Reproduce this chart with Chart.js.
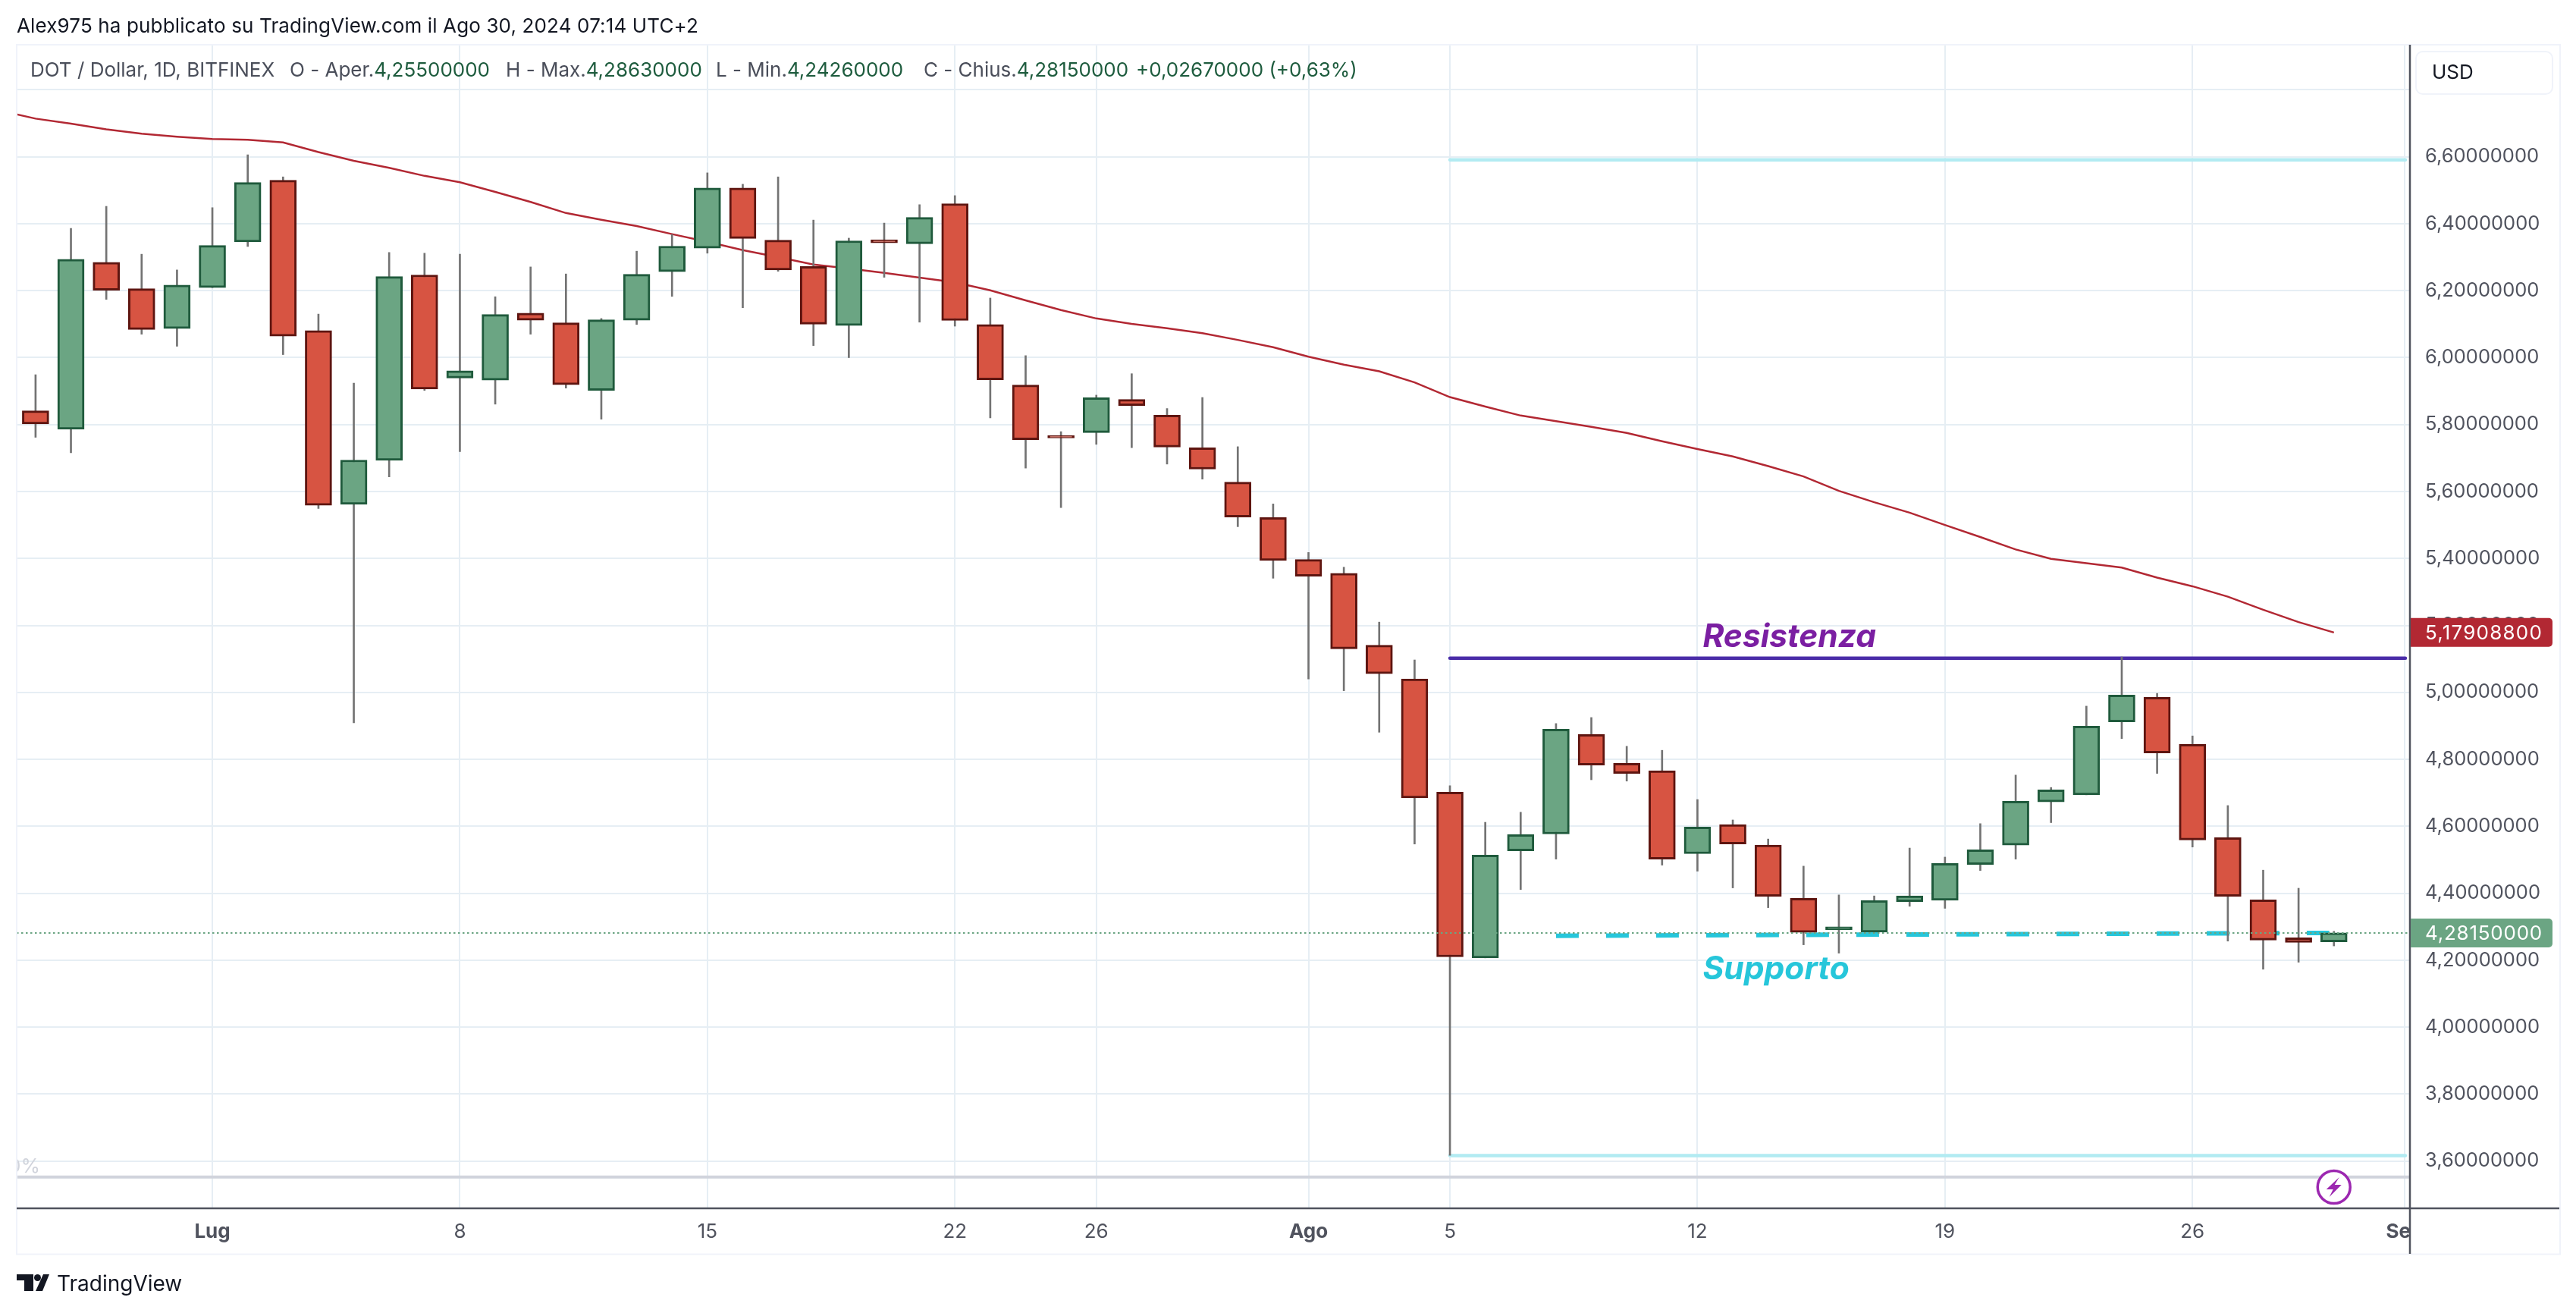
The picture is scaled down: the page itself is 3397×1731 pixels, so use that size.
<!DOCTYPE html>
<html lang="it">
<head>
<meta charset="utf-8">
<title>DOT / Dollar</title>
<script src="https://cdn.jsdelivr.net/npm/chart.js@4"></script>
<style>html,body{margin:0;padding:0;background:#fff}canvas{display:block}</style>
</head>
<body>
<canvas id="c" width="3397" height="1731"></canvas>
<script>
// Daily candles, 26 Jun 2024 (day 0) to 30 Aug 2024 (day 65)
const opens  = [5.841,5.786,6.285,6.206,6.087,6.209,6.346,6.530,6.081,5.562,5.693,6.247,5.939,5.933,6.133,6.104,5.902,6.112,6.257,6.327,6.507,6.351,6.272,6.096,6.352,6.340,6.460,6.099,5.918,5.763,5.776,5.875,5.828,5.731,5.628,5.522,5.397,5.356,5.141,5.040,4.702,4.207,4.527,4.577,4.874,4.788,4.766,4.518,4.605,4.544,4.385,4.291,4.284,4.375,4.379,4.486,4.544,4.673,4.694,4.912,4.985,4.845,4.566,4.380,4.267,4.255];
const closes = [5.802,6.294,6.201,6.084,6.217,6.335,6.523,6.064,5.559,5.694,6.242,5.906,5.961,6.129,6.112,5.919,6.113,6.249,6.333,6.507,6.356,6.262,6.100,6.349,6.343,6.419,6.111,5.934,5.755,5.760,5.880,5.857,5.733,5.667,5.524,5.394,5.347,5.130,5.056,4.685,4.210,4.514,4.575,4.890,4.783,4.758,4.502,4.598,4.547,4.391,4.283,4.300,4.378,4.392,4.489,4.530,4.675,4.709,4.899,4.992,4.819,4.559,4.391,4.260,4.253,4.2815];
const highs  = [5.949,6.386,6.452,6.309,6.262,6.448,6.606,6.540,6.130,5.924,6.314,6.312,6.309,6.182,6.271,6.250,6.117,6.318,6.368,6.552,6.518,6.540,6.411,6.357,6.402,6.457,6.484,6.178,6.006,5.779,5.888,5.952,5.848,5.881,5.734,5.563,5.418,5.374,5.210,5.097,4.721,4.612,4.642,4.907,4.925,4.839,4.827,4.680,4.619,4.562,4.481,4.395,4.392,4.535,4.508,4.608,4.753,4.716,4.959,5.106,4.997,4.870,4.662,4.469,4.415,4.2863];
const lows   = [5.762,5.716,6.174,6.070,6.034,6.209,6.332,6.009,5.549,4.909,5.644,5.902,5.719,5.861,6.070,5.909,5.816,6.099,6.183,6.312,6.149,6.258,6.036,6.000,6.240,6.106,6.094,5.820,5.670,5.552,5.741,5.731,5.682,5.637,5.495,5.341,5.040,5.005,4.881,4.547,3.617,4.207,4.411,4.502,4.739,4.735,4.484,4.466,4.416,4.357,4.246,4.221,4.284,4.361,4.355,4.468,4.502,4.611,4.694,4.862,4.758,4.538,4.257,4.173,4.194,4.2426];
// Moving average, day -1 to day 65
const maValues = [6.738,6.714,6.699,6.682,6.669,6.660,6.653,6.651,6.643,6.614,6.588,6.567,6.543,6.524,6.495,6.465,6.432,6.412,6.393,6.369,6.346,6.321,6.300,6.278,6.266,6.253,6.239,6.225,6.201,6.171,6.142,6.117,6.101,6.088,6.073,6.053,6.031,6.003,5.979,5.959,5.926,5.882,5.854,5.827,5.810,5.793,5.775,5.750,5.727,5.705,5.676,5.645,5.602,5.568,5.537,5.500,5.464,5.427,5.399,5.386,5.373,5.343,5.317,5.286,5.247,5.210,5.179];
const yTicks = [6.8,6.6,6.4,6.2,6.0,5.8,5.6,5.4,5.2,5.0,4.8,4.6,4.4,4.2,4.0,3.8,3.6];
const xTickDays = [5,12,19,26,30,36,40,47,54,61,67];
const xTickLabels = ['Lug','8','15','22','26','Ago','5','12','19','26','Sep'];
const xBoldLabels = ['Lug','Ago','Sep'];
const resistanceLevel = [5.102,5.102];
const upperLevel = [6.591,6.591];
const lowerLevel = [3.616,3.616];
const levelDays = [40,67.02];
const supportLevel = [4.273,4.2814];
const supportDays = [43,64.87];
const baselineLevel = 3.552;
const lastClose = 4.2815;
const lastMA = 5.179088;
const xRange = [-0.534,67.15];
const yRange = [3.4588,6.9324];

const FONT = 'Inter, "Liberation Sans", sans-serif';
const fmt = v => v.toFixed(8).replace('.', ',');
const GRID = '#E6EEF4';
const AXIS = '#50535E';
const UP = '#6BA583', UPB = '#1F5A3C', DOWN = '#D75442', DOWNB = '#5E1510';

const days = opens.map((_, i) => i);
const segLine = (xs, ys, extra) => Object.assign({
  type: 'line', data: xs.map((x, i) => ({x, y: ys[i]})), pointRadius: 0, tension: 0, fill: false
}, extra);

const overlay = {
  id: 'overlay',
  beforeDraw(chart) {
    const c = chart.ctx;
    c.save();
    c.fillStyle = '#fff';
    c.fillRect(0, 0, chart.width, chart.height);
    c.restore();
  },
  afterDatasetsDraw(chart) {
    const c = chart.ctx, xs = chart.scales.x, ys = chart.scales.y;
    c.save();
    c.textBaseline = 'alphabetic';
    c.textAlign = 'left';
    c.font = 'italic 700 42.5px ' + FONT;
    c.fillStyle = '#7B1FA2';
    c.fillText('Resistenza', xs.getPixelForValue(47.15), ys.getPixelForValue(5.135));
    c.fillStyle = '#26C6DA';
    c.fillText('Supporto', xs.getPixelForValue(47.15), ys.getPixelForValue(4.143));
    c.restore();
  },
  afterDraw(chart) {
    const c = chart.ctx, a = chart.chartArea, ys = chart.scales.y;
    c.save();
    // mask the clipped tail of the last time label
    c.fillStyle = '#fff';
    c.fillRect(a.right + 1, a.bottom + 2, 196, 58);
    // faint scale label, clipped on the left
    c.save();
    c.beginPath(); c.rect(a.left, a.top, 200, a.bottom - a.top); c.clip();
    c.font = '26px ' + FONT; c.fillStyle = '#D1D4DC'; c.textAlign = 'right'; c.textBaseline = 'middle';
    c.fillText('0%', 53, 1538);
    c.restore();
    // panel frame
    c.strokeStyle = '#F0F3FA'; c.lineWidth = 2;
    c.strokeRect(22, 59, 3354, 1594.5);
    // axes
    c.strokeStyle = AXIS; c.lineWidth = 2.5;
    c.beginPath(); c.moveTo(22, a.bottom); c.lineTo(3375, a.bottom); c.stroke();
    c.beginPath(); c.moveTo(a.right, 59); c.lineTo(a.right, 1653); c.stroke();
    // USD box
    c.strokeStyle = '#F0F3FA'; c.lineWidth = 2;
    c.beginPath(); c.roundRect(3186, 68, 180, 56, 9); c.stroke();
    c.font = '26px ' + FONT; c.fillStyle = '#131722'; c.textBaseline = 'middle'; c.textAlign = 'left';
    c.fillText('USD', 3207, 96);
    // last value tags, digits spread to the fixed width of the price column
    const tag = (v, bg) => {
      const y = ys.getPixelForValue(v);
      c.fillStyle = bg;
      c.beginPath(); c.roundRect(3179, y - 19, 187, 38, [0, 5, 5, 0]); c.fill();
      c.fillStyle = '#fff'; c.font = '26px ' + FONT; c.textBaseline = 'middle';
      const s = fmt(v);
      c.letterSpacing = ((155 - c.measureText(s).width) / 10) + 'px';
      c.fillText(s, 3198, y + 1);
      c.letterSpacing = '0px';
    };
    tag(lastMA, '#B22833');
    tag(lastClose, UP);
    // bolt marker
    const bx = chart.scales.x.getPixelForValue(65), by = 1565;
    c.fillStyle = '#fff'; c.strokeStyle = '#9C27B0'; c.lineWidth = 3.5;
    c.beginPath(); c.arc(bx, by, 21.5, 0, Math.PI * 2); c.fill(); c.stroke();
    c.fillStyle = '#9C27B0';
    c.beginPath();
    [[7,-13],[-10,3],[-1,3],[-6,13],[10,-3],[1,-3]].forEach((p, i) => i ? c.lineTo(bx + p[0], by + p[1]) : c.moveTo(bx + p[0], by + p[1]));
    c.closePath(); c.fill();
    // header
    c.textBaseline = 'middle'; c.textAlign = 'left';
    c.font = '26px ' + FONT; c.fillStyle = '#131722';
    c.letterSpacing = '0.14px';
    c.fillText('Alex975 ha pubblicato su TradingView.com il Ago 30, 2024 07:14 UTC+2', 22, 35);
    c.letterSpacing = '0px';
    const LAB = '#4A4E5A', VAL = '#1E5C3E';
    const legend = [
      [40, 'DOT / Dollar, 1D, BITFINEX', null],
      [382, 'O - Aper.', '4,25500000'],
      [667, 'H - Max.', '4,28630000'],
      [944, 'L - Min.', '4,24260000'],
      [1218, 'C - Chius.', '4,28150000'],
      [1498, null, '+0,02670000 (+0,63%)']
    ];
    legend.forEach(([x, lab, val]) => {
      let px = x;
      if (lab) { c.fillStyle = LAB; c.fillText(lab, px, 93); px += c.measureText(lab).width; }
      if (val) { c.fillStyle = VAL; c.fillText(val, px, 93); }
    });
    // footer logo
    c.fillStyle = '#131722';
    c.fillRect(22, 1680, 22, 8); c.fillRect(32, 1680, 12, 22);
    c.beginPath(); c.arc(49.5, 1684.5, 4.5, 0, Math.PI * 2); c.fill();
    c.beginPath(); c.moveTo(57, 1680); c.lineTo(65, 1680); c.lineTo(56, 1702); c.lineTo(47, 1702); c.closePath(); c.fill();
    c.font = '400 28px ' + FONT;
    c.fillText('TradingView', 75, 1694);
    c.restore();
  }
};

new Chart(document.getElementById('c'), {
  type: 'bar',
  plugins: [overlay],
  data: {
    datasets: [
      segLine([xRange[0], xRange[1]], [lastClose, lastClose], {order: 0, borderColor: UP, borderWidth: 2, borderDash: [2.5, 3.5]}),
      {
        order: 1, grouped: false, barThickness: 35, borderWidth: 3, borderSkipped: false, minBarLength: 3,
        data: days.map(i => ({x: i, y: [opens[i], closes[i]]})),
        backgroundColor: days.map(i => closes[i] >= opens[i] ? UP : DOWN),
        borderColor: days.map(i => closes[i] >= opens[i] ? UPB : DOWNB)
      },
      {
        order: 2, grouped: false, barThickness: 2, borderWidth: 0,
        data: days.map(i => ({x: i, y: [lows[i], highs[i]]})),
        backgroundColor: '#737373'
      },
      segLine(levelDays, resistanceLevel, {order: 3, borderColor: '#4A2CA8', borderWidth: 4.5, borderCapStyle: 'round'}),
      segLine(maValues.map((_, i) => i - 1), maValues, {order: 4, borderColor: '#B22833', borderWidth: 2.5}),
      segLine(supportDays, supportLevel, {order: 5, borderColor: '#26C6DA', borderWidth: 6, borderDash: [30, 36]}),
      segLine(levelDays, upperLevel, {order: 6, borderColor: '#B2EBF2', borderWidth: 4.5, borderCapStyle: 'round'}),
      segLine(levelDays, lowerLevel, {order: 6, borderColor: '#B2EBF2', borderWidth: 4.5, borderCapStyle: 'round'}),
      segLine([xRange[0], xRange[1]], [baselineLevel, baselineLevel], {order: 7, borderColor: '#D1D4DC', borderWidth: 4})
    ]
  },
  options: {
    responsive: false,
    animation: false,
    devicePixelRatio: 1,
    layout: {padding: {left: 22, top: 60, right: 21, bottom: 77}},
    plugins: {legend: {display: false}, tooltip: {enabled: false}},
    scales: {
      x: {
        type: 'linear', min: xRange[0], max: xRange[1], offset: false,
        grid: {color: GRID, lineWidth: 2, drawTicks: false, offset: false},
        border: {display: false},
        afterBuildTicks: s => { s.ticks = xTickDays.map(v => ({value: v})); },
        afterFit: s => { s.height = 61; },
        ticks: {
          autoSkip: false, maxRotation: 0, padding: 16, color: AXIS,
          callback: (v) => xTickLabels[xTickDays.indexOf(v)],
          font: ctx => ({family: FONT, size: 26, weight: xBoldLabels.includes(xTickLabels[ctx.index]) ? '700' : '400'})
        }
      },
      y: {
        type: 'linear', position: 'right', min: yRange[0], max: yRange[1],
        grid: {color: GRID, lineWidth: 2, drawTicks: false},
        border: {display: false},
        afterBuildTicks: s => { s.ticks = yTicks.map(v => ({value: v})); },
        afterFit: s => { s.width = 198; },
        ticks: {
          autoSkip: false, padding: 20, color: AXIS, crossAlign: 'near',
          font: {family: FONT, size: 25.5},
          callback: v => v > 6.7 ? '' : fmt(v)
        }
      }
    }
  }
});
</script>
</body>
</html>
